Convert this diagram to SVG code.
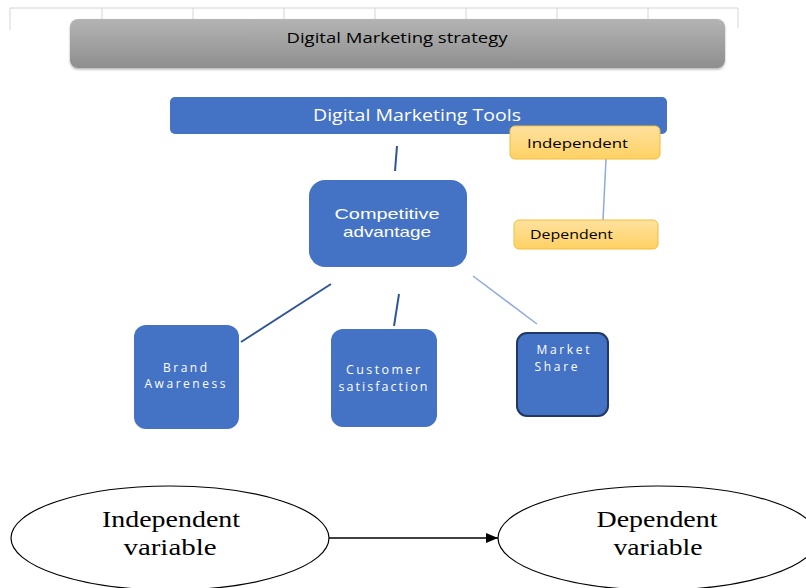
<svg xmlns="http://www.w3.org/2000/svg" width="806" height="588" viewBox="0 0 806 588">
<defs>
<linearGradient id="gGray" x1="0" y1="0" x2="0" y2="1"><stop offset="0" stop-color="#b4b4b4"/><stop offset="1" stop-color="#8e8e8e"/></linearGradient>
<linearGradient id="gYel" x1="0" y1="0" x2="0" y2="1"><stop offset="0" stop-color="#ffe2a0"/><stop offset="1" stop-color="#ffd163"/></linearGradient>
<marker id="arr" markerWidth="12" markerHeight="10" refX="12" refY="5" orient="auto" markerUnits="userSpaceOnUse"><path d="M0,0 L12,5 L0,10 Z" fill="#000"/></marker>
<filter id="sh" x="-5%" y="-20%" width="110%" height="150%"><feDropShadow dx="0" dy="1.5" stdDeviation="1.2" flood-color="#000" flood-opacity="0.3"/></filter>
</defs>
<style>
.blue{fill:#4472c4}
.wt{fill:#fff;font-family:"Open Sans","Liberation Sans",sans-serif;text-anchor:middle}
.wl{fill:#fff;font-family:"Liberation Sans",sans-serif;text-anchor:middle}
.bk{fill:#000;font-family:"Open Sans","Liberation Sans",sans-serif}
.serif{fill:#000;font-family:"Liberation Serif",serif;font-size:24px;text-anchor:middle}
.grid{stroke:#d4d4d4;stroke-width:1;fill:none}
.ydark{stroke:#2f5597;stroke-width:2;fill:none}
.ylight{stroke:#8faadc;stroke-width:1.5;fill:none}
</style>
<rect width="806" height="588" fill="#fff"/>
<g id="grid">
<path class="grid" d="M10,8 H738 M10,8 V30 M102,8 V28 M193,8 V28 M284,8 V28 M375,8 V28 M466,8 V28 M557,8 V28 M648,8 V28 M738,8 V28"/>
</g>
<g id="connectors">
<line class="ydark" x1="397" y1="146" x2="395" y2="171"/>
<line class="ylight" x1="606" y1="159" x2="603" y2="220"/>
<line class="ydark" x1="331" y1="284" x2="241" y2="342"/>
<line class="ydark" x1="399" y1="294" x2="394" y2="326"/>
<line class="ylight" x1="473" y1="276" x2="537" y2="324"/>
<line stroke="#000" stroke-width="1.5" x1="329" y1="538" x2="498" y2="538" marker-end="url(#arr)"/>
</g>
<g id="strategy">
<rect x="70" y="19" width="655" height="49" rx="8" fill="url(#gGray)" filter="url(#sh)"/>
<text class="bk" x="397" y="43" font-size="15" text-anchor="middle" textLength="221" lengthAdjust="spacingAndGlyphs">Digital Marketing strategy</text>
</g>
<g id="tools">
<rect class="blue" x="170" y="97" width="497" height="37" rx="5"/>
<text class="wt" x="417" y="121" font-size="16" textLength="208" lengthAdjust="spacingAndGlyphs">Digital Marketing Tools</text>
</g>
<g id="independent">
<rect x="510" y="126" width="150" height="33" rx="5" fill="url(#gYel)" stroke="#f2bd3a" stroke-width="1"/>
<text class="bk" x="527" y="148" font-size="13" textLength="101" lengthAdjust="spacingAndGlyphs">Independent</text>
</g>
<g id="dependent">
<rect x="514" y="220" width="144" height="29" rx="5" fill="url(#gYel)" stroke="#f2bd3a" stroke-width="1"/>
<text class="bk" x="530" y="239" font-size="12" textLength="83" lengthAdjust="spacingAndGlyphs">Dependent</text>
</g>
<g id="competitive">
<rect class="blue" x="309" y="180" width="158" height="87" rx="16"/>
<text class="wl" x="387" y="219" font-size="15" textLength="105" lengthAdjust="spacingAndGlyphs">Competitive</text>
<text class="wl" x="387" y="237" font-size="15" textLength="88" lengthAdjust="spacingAndGlyphs">advantage</text>
</g>
<g id="brand">
<rect class="blue" x="134" y="325" width="105" height="104" rx="12"/>
<text class="wt" x="185" y="372" font-size="12" textLength="44" lengthAdjust="spacing">Brand</text>
<text class="wt" x="185" y="388" font-size="12" textLength="81" lengthAdjust="spacing">Awareness</text>
</g>
<g id="customer">
<rect class="blue" x="331" y="329" width="106" height="98" rx="12"/>
<text class="wt" x="383" y="374" font-size="12.5" textLength="74" lengthAdjust="spacing">Customer</text>
<text class="wt" x="383" y="391" font-size="12.5" textLength="89" lengthAdjust="spacing">satisfaction</text>
</g>
<g id="market">
<rect class="blue" x="517" y="333" width="91" height="83" rx="10" stroke="#1f3864" stroke-width="2"/>
<text class="wt" x="563" y="354" font-size="12" textLength="53" lengthAdjust="spacing">Market</text>
<text class="wt" x="556" y="371" font-size="12" textLength="43" lengthAdjust="spacing">Share</text>
</g>
<g id="indep-var">
<ellipse cx="170" cy="538" rx="159" ry="52" fill="#fff" stroke="#000" stroke-width="1.2"/>
<text class="serif" x="171" y="527" textLength="138" lengthAdjust="spacingAndGlyphs">Independent</text>
<text class="serif" x="170" y="555" textLength="93" lengthAdjust="spacingAndGlyphs">variable</text>
</g>
<g id="dep-var">
<ellipse cx="658" cy="538" rx="160" ry="52" fill="#fff" stroke="#000" stroke-width="1.2"/>
<text class="serif" x="657" y="527" textLength="121" lengthAdjust="spacingAndGlyphs">Dependent</text>
<text class="serif" x="658" y="555" textLength="89" lengthAdjust="spacingAndGlyphs">variable</text>
</g>
</svg>
